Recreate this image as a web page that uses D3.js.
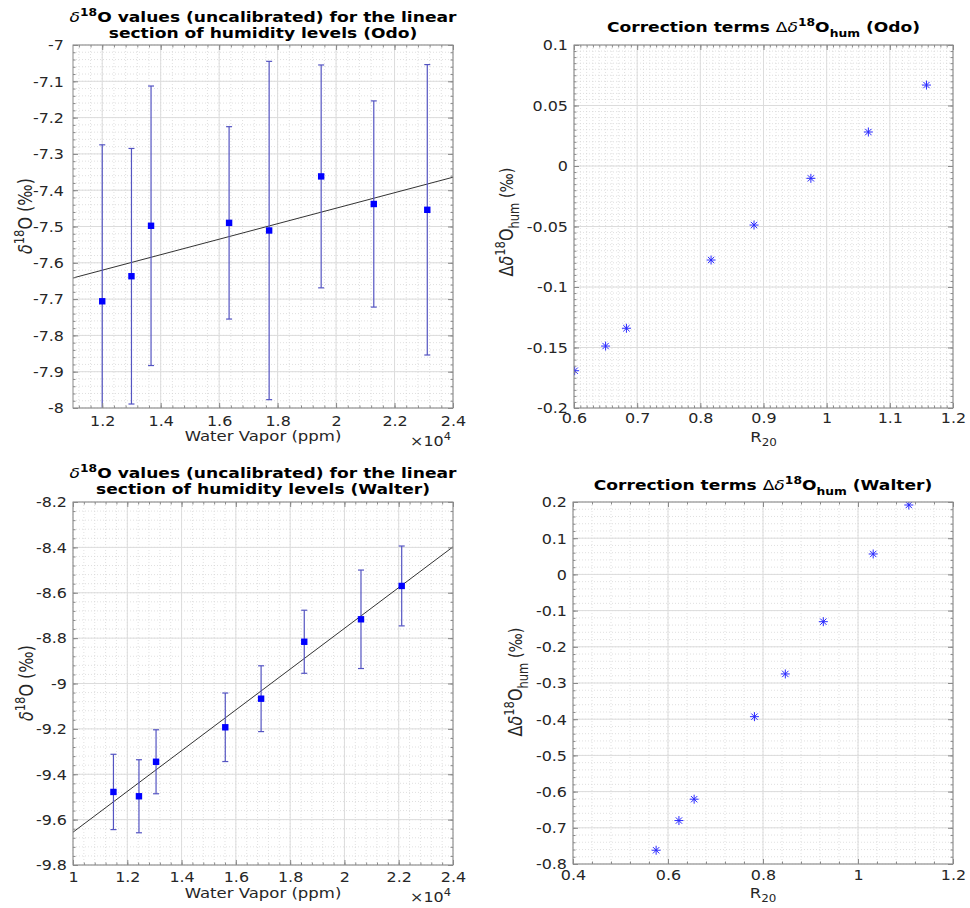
<!DOCTYPE html>
<html>
<head>
<meta charset="utf-8">
<script src="https://cdn.jsdelivr.net/npm/d3@7"></script>
<style>
  body { margin: 0; background: #fff; }
  svg { display: block; }
  text { font-family: "DejaVu Sans", sans-serif; fill: #262626; }
</style>
</head>
<body>
<svg id="chart" width="970" height="908"></svg>
<script>
// ---------- data ----------
// Odo: water vapour (×10^4 ppm), uncalibrated δ18O (‰) and its error
const odoVapor = [1.200, 1.300, 1.367, 1.634, 1.771, 1.949, 2.129, 2.312];
const odoDelta = [-7.706, -7.637, -7.498, -7.490, -7.511, -7.362, -7.438, -7.454];
const odoErr   = [0.431, 0.352, 0.385, 0.265, 0.466, 0.307, 0.284, 0.400];

// Walter: water vapour (×10^4 ppm), uncalibrated δ18O (‰) and its error
const walterVapor = [1.149, 1.243, 1.306, 1.561, 1.693, 1.852, 2.061, 2.211];
const walterDelta = [-9.478, -9.497, -9.345, -9.193, -9.067, -8.816, -8.717, -8.570];
const walterErr   = [0.166, 0.161, 0.141, 0.151, 0.145, 0.139, 0.217, 0.176];

// Humidity correction terms against R20
const odoR20     = [0.601, 0.650, 0.683, 0.817, 0.885, 0.975, 1.066, 1.158];
const odoCorr    = [-0.1692, -0.1488, -0.1341, -0.0777, -0.0488, -0.0102, 0.0281, 0.0669];
const walterR20  = [0.575, 0.623, 0.655, 0.782, 0.847, 0.927, 1.032, 1.107];
const walterCorr = [-0.762, -0.680, -0.621, -0.393, -0.275, -0.1306, 0.0564, 0.1917];

// Tick values
const odoXTicks    = [1.2, 1.4, 1.6, 1.8, 2.0, 2.2, 2.4];
const odoYTicks    = [-7, -7.1, -7.2, -7.3, -7.4, -7.5, -7.6, -7.7, -7.8, -7.9, -8];
const walterXTicks = [1.0, 1.2, 1.4, 1.6, 1.8, 2.0, 2.2, 2.4];
const walterYTicks = [-8.2, -8.4, -8.6, -8.8, -9, -9.2, -9.4, -9.6, -9.8];
const odoCorrXTicks    = [0.6, 0.7, 0.8, 0.9, 1.0, 1.1, 1.2];
const odoCorrYTicks    = [0.1, 0.05, 0, -0.05, -0.1, -0.15, -0.2];
const walterCorrXTicks = [0.4, 0.6, 0.8, 1.0, 1.2];
const walterCorrYTicks = [0.2, 0.1, 0, -0.1, -0.2, -0.3, -0.4, -0.5, -0.6, -0.7, -0.8];

// ---------- helpers ----------
const SX = 1.18;              // horizontal text stretch
const TICK_FS = 13.5;
const svg = d3.select("#chart");
const defs = svg.append("defs");
const fmt = v => String(+v.toFixed(4));

function minorValues(domain, step) {
  const lo = Math.min(...domain), hi = Math.max(...domain);
  const a = Math.ceil(lo / step - 1e-6), b = Math.floor(hi / step + 1e-6);
  return d3.range(a, b + 1).map(i => +(i * step).toFixed(6));
}

// text built from segments with super/subscripts
function richText(parent, x, y, segs, o) {
  const size = o.size;
  const tr = o.rotate
    ? `translate(${x},${y}) rotate(-90) scale(1,${SX})`
    : `translate(${x},${y}) scale(${SX},1)`;
  const t = parent.append("text")
    .attr("transform", tr)
    .attr("text-anchor", o.anchor || "middle")
    .attr("font-size", size)
    .attr("font-weight", o.weight || "normal")
    .style("fill", o.fill || "#262626");
  let cur = 0;
  segs.forEach(s => {
    const fs = (s.sup || s.sub) ? size * 0.72 : size * (s.scale || 1);
    const shift = s.sup ? -0.42 * size : s.sub ? 0.32 * size : 0;
    const sp = t.append("tspan").attr("font-size", fs).text(s.t);
    if (shift - cur !== 0) sp.attr("dy", shift - cur);
    if (s.it) sp.attr("font-style", "italic");
    if (s.w) sp.attr("font-weight", s.w);
    cur = shift;
  });
  return t;
}

function linFit(xs, ys) {
  const mx = d3.mean(xs), my = d3.mean(ys);
  const sxy = d3.sum(xs, (v, i) => (v - mx) * (ys[i] - my));
  const sxx = d3.sum(xs, v => (v - mx) * (v - mx));
  const b = sxy / sxx;
  return { a: my - b * mx, b };
}

function asteriskPath(r) {
  const d = r * 0.707;
  return `M${-r},0H${r}M0,${-r}V${r}M${-d},${-d}L${d},${d}M${-d},${d}L${d},${-d}`;
}

function panel(cfg) {
  const { x0, x1, y0, y1 } = cfg.box;
  const x = d3.scaleLinear().domain(cfg.xDomain).range([x0, x1]);
  const y = d3.scaleLinear().domain(cfg.yDomain).range([y1, y0]);
  const g = svg.append("g");

  defs.append("clipPath").attr("id", "clip-" + cfg.id)
    .append("rect").attr("x", x0).attr("y", y0)
    .attr("width", x1 - x0).attr("height", y1 - y0);

  const xm = minorValues(cfg.xDomain, cfg.xMinor);
  const ym = minorValues(cfg.yDomain, cfg.yMinor);

  // minor grid
  const grid = g.append("g");
  grid.selectAll(".mx").data(xm).join("line")
    .attr("x1", d => x(d)).attr("x2", d => x(d)).attr("y1", y0).attr("y2", y1)
    .attr("stroke", "#d2d2d2").attr("stroke-width", 0.7).attr("stroke-dasharray", "1,2");
  grid.selectAll(".my").data(ym).join("line")
    .attr("y1", d => y(d)).attr("y2", d => y(d)).attr("x1", x0).attr("x2", x1)
    .attr("stroke", "#d2d2d2").attr("stroke-width", 0.7).attr("stroke-dasharray", "1,2");
  // major grid
  grid.selectAll(".Mx").data(cfg.xTicks).join("line")
    .attr("x1", d => x(d)).attr("x2", d => x(d)).attr("y1", y0).attr("y2", y1)
    .attr("stroke", "#dcdcdc").attr("stroke-width", 1);
  grid.selectAll(".My").data(cfg.yTicks).join("line")
    .attr("y1", d => y(d)).attr("y2", d => y(d)).attr("x1", x0).attr("x2", x1)
    .attr("stroke", "#dcdcdc").attr("stroke-width", 1);

  // data layer
  const plot = g.append("g").attr("clip-path", `url(#clip-${cfg.id})`);
  cfg.draw(plot, x, y);

  // axes: ticks inward on all four sides
  const tickColor = "#8a8a8a";
  function addAxis(gen, tx, ty, values, size, labels) {
    const a = g.append("g").attr("transform", `translate(${tx},${ty})`)
      .call(gen.tickValues(values).tickSizeInner(-size).tickSizeOuter(0)
        .tickFormat(labels ? fmt : () => ""));
    a.select(".domain").remove();
    a.selectAll(".tick line").attr("stroke", tickColor);
    if (!labels) a.selectAll("text").remove();
    return a;
  }
  addAxis(d3.axisBottom(x), 0, y1, xm, 2.5, false);
  addAxis(d3.axisTop(x), 0, y0, xm, 2.5, false);
  addAxis(d3.axisLeft(y), x0, 0, ym, 2.5, false);
  addAxis(d3.axisRight(y), x1, 0, ym, 2.5, false);
  addAxis(d3.axisTop(x), 0, y0, cfg.xTicks, 5, false);
  addAxis(d3.axisRight(y), x1, 0, cfg.yTicks, 5, false);
  const bx = addAxis(d3.axisBottom(x), 0, y1, cfg.xTicks, 5, true);
  bx.selectAll("text")
    .attr("y", null).attr("dy", null)
    .attr("font-size", TICK_FS)
    .attr("transform", `translate(0,${cfg.xTickBase}) scale(${SX},1)`)
    .style("fill", "#262626");
  const ly = addAxis(d3.axisLeft(y), x0, 0, cfg.yTicks, 5, true);
  ly.selectAll("text")
    .attr("x", null).attr("dy", "0.36em")
    .attr("font-size", TICK_FS)
    .attr("transform", `translate(${-cfg.yGap},0) scale(${SX},1)`)
    .style("fill", "#262626");
  g.selectAll("g").attr("font-family", null).attr("font-size", null);

  // frame
  g.append("rect").attr("x", x0).attr("y", y0)
    .attr("width", x1 - x0).attr("height", y1 - y0)
    .attr("fill", "none").attr("stroke", tickColor).attr("stroke-width", 1);

  // titles and labels
  cfg.title.forEach(t => richText(g, (x0 + x1) / 2, t.y, t.segs, { size: 14.5, weight: "bold", fill: "#000" }));
  richText(g, (x0 + x1) / 2, cfg.xLabel.y, cfg.xLabel.segs, { size: 14 });
  richText(g, cfg.yLabel.x, cfg.yLabel.y, cfg.yLabel.segs, { size: 16, rotate: true });
  if (cfg.exponent) {
    richText(g, cfg.exponent.x, cfg.exponent.y, [{ t: "×10" }, { t: "4", sup: true }], { size: 13.5, anchor: "end" });
  }
}

// marks
function errorbarPlot(xs, ys, es) {
  return (plot, x, y) => {
    const idx = d3.range(xs.length);
    const fit = linFit(xs, ys);
    const [d0, d1] = x.domain();
    plot.append("line")
      .attr("x1", x(d0)).attr("y1", y(fit.a + fit.b * d0))
      .attr("x2", x(d1)).attr("y2", y(fit.a + fit.b * d1))
      .attr("stroke", "#333").attr("stroke-width", 1);
    const eb = plot.append("g").attr("stroke", "#5454c2").attr("stroke-width", 1.2);
    eb.selectAll(".v").data(idx).join("line")
      .attr("x1", i => x(xs[i])).attr("x2", i => x(xs[i]))
      .attr("y1", i => y(ys[i] + es[i])).attr("y2", i => y(ys[i] - es[i]));
    [1, -1].forEach(sgn => {
      eb.selectAll(".c" + sgn).data(idx).join("line")
        .attr("x1", i => x(xs[i]) - 3).attr("x2", i => x(xs[i]) + 3)
        .attr("y1", i => y(ys[i] + sgn * es[i])).attr("y2", i => y(ys[i] + sgn * es[i]));
    });
    plot.selectAll(".m").data(idx).join("rect")
      .attr("x", i => x(xs[i]) - 3.2).attr("y", i => y(ys[i]) - 3.2)
      .attr("width", 6.4).attr("height", 6.4).attr("fill", "#0000ff");
  };
}

function asteriskPlot(xs, ys) {
  return (plot, x, y) => {
    plot.selectAll(".s").data(d3.range(xs.length)).join("path")
      .attr("transform", i => `translate(${x(xs[i])},${y(ys[i])})`)
      .attr("d", asteriskPath(4.5))
      .attr("fill", "none").attr("stroke", "#2a2aff").attr("stroke-width", 1);
  };
}

const dO = [{ t: "δ", it: true, w: "normal" }, { t: "18", sup: true }];
const dLabel = [{ t: "δ", it: true }, { t: "18", sup: true }, { t: "O " }, { t: "(‰)" }];

panel({
  id: "odo", box: { x0: 73, x1: 453, y0: 45, y1: 408 },
  xDomain: [1.1, 2.4], yDomain: [-8, -7],
  xTicks: odoXTicks, yTicks: odoYTicks, xMinor: 0.04, yMinor: 0.02,
  xTickBase: 18, yGap: 9,
  draw: errorbarPlot(odoVapor, odoDelta, odoErr),
  title: [
    { y: 22, segs: [...dO, { t: "O values (uncalibrated) for the linear" }] },
    { y: 38, segs: [{ t: "section of humidity levels (Odo)" }] }
  ],
  xLabel: { y: 441, segs: [{ t: "Water Vapor (ppm)" }] },
  yLabel: { x: 32, y: 216, segs: dLabel },
  exponent: { x: 451, y: 446 }
});

panel({
  id: "walter", box: { x0: 73, x1: 453, y0: 502, y1: 865 },
  xDomain: [1.0, 2.4], yDomain: [-9.8, -8.2],
  xTicks: walterXTicks, yTicks: walterYTicks, xMinor: 0.04, yMinor: 0.04,
  xTickBase: 17, yGap: 6,
  draw: errorbarPlot(walterVapor, walterDelta, walterErr),
  title: [
    { y: 478, segs: [...dO, { t: "O values (uncalibrated) for the linear" }] },
    { y: 494, segs: [{ t: "section of humidity levels (Walter)" }] }
  ],
  xLabel: { y: 898, segs: [{ t: "Water Vapor (ppm)" }] },
  yLabel: { x: 33, y: 683, segs: dLabel },
  exponent: { x: 451, y: 902 }
});

const corrTitle = (name, y) => [{ y, segs: [
  { t: "Correction terms " }, { t: "Δ", w: "normal" }, { t: "δ", it: true, w: "normal" },
  { t: "18", sup: true }, { t: "O" }, { t: "hum", sub: true }, { t: " (" + name + ")" }
] }];
const corrYLabel = [{ t: "Δ" }, { t: "δ", it: true }, { t: "18", sup: true }, { t: "O" },
  { t: "hum", sub: true }, { t: " (‰)", scale: 0.9 }];

panel({
  id: "odoCorr", box: { x0: 574, x1: 953, y0: 45, y1: 408 },
  xDomain: [0.6, 1.2], yDomain: [-0.2, 0.1],
  xTicks: odoCorrXTicks, yTicks: odoCorrYTicks, xMinor: 0.01, yMinor: 0.005,
  xTickBase: 15, yGap: 6,
  draw: asteriskPlot(odoR20, odoCorr),
  title: corrTitle("Odo", 32),
  xLabel: { y: 442, segs: [{ t: "R" }, { t: "20", sub: true }] },
  yLabel: { x: 513, y: 222, segs: corrYLabel }
});

panel({
  id: "walterCorr", box: { x0: 573, x1: 953, y0: 502, y1: 864 },
  xDomain: [0.4, 1.2], yDomain: [-0.8, 0.2],
  xTicks: walterCorrXTicks, yTicks: walterCorrYTicks, xMinor: 0.04, yMinor: 0.02,
  xTickBase: 16, yGap: 6,
  draw: asteriskPlot(walterR20, walterCorr),
  title: corrTitle("Walter", 490),
  xLabel: { y: 898, segs: [{ t: "R" }, { t: "20", sub: true }] },
  yLabel: { x: 522, y: 682, segs: corrYLabel }
});
</script>
</body>
</html>
